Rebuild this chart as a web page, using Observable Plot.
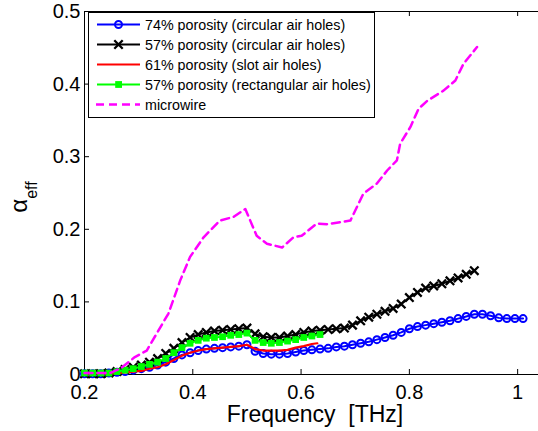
<!DOCTYPE html>
<html>
<head>
<meta charset="utf-8">
<script src="https://cdn.jsdelivr.net/npm/d3@7"></script>
<script src="https://cdn.jsdelivr.net/npm/@observablehq/plot@0.6"></script>
<style>
  html, body { margin: 0; padding: 0; background: #fff; }
  svg { display: block; }
</style>
</head>
<body>
<div id="chart"></div>
<script>
// ---- Data ----
const freq = [0.200,0.215,0.230,0.245,0.260,0.275,0.290,0.305,0.320,0.335,
              0.350,0.365,0.380,0.395,0.410,0.425,0.440,0.455,0.470,0.485,
              0.500,0.515,0.530,0.545,0.560,0.575,0.590,0.605,0.620,0.635,
              0.650,0.665,0.680,0.695,0.710,0.725,0.740,0.755,0.770,0.785,
              0.800,0.815,0.830,0.845,0.860,0.875,0.890,0.905,0.920,0.935,
              0.950,0.965,0.980,0.995,1.010];

const porosity74Circular = [0.001,0.001,0.001,0.002,0.003,0.004,0.006,0.008,0.010,0.013,
                            0.017,0.022,0.027,0.030,0.033,0.035,0.036,0.037,0.038,0.039,
                            0.041,0.032,0.029,0.028,0.028,0.029,0.031,0.033,0.034,0.035,
                            0.036,0.038,0.039,0.041,0.043,0.045,0.048,0.051,0.054,0.058,
                            0.063,0.066,0.068,0.070,0.072,0.074,0.077,0.080,0.083,0.083,
                            0.081,0.078,0.077,0.077,0.077];

const porosity57Circular = [0.001,0.001,0.001,0.002,0.004,0.007,0.010,0.013,0.017,0.022,
                            0.029,0.036,0.044,0.051,0.055,0.058,0.060,0.061,0.062,0.063,
                            0.064,0.056,0.052,0.051,0.051,0.053,0.055,0.058,0.060,0.061,
                            0.062,0.063,0.064,0.068,0.074,0.079,0.083,0.087,0.091,0.097,
                            0.106,0.113,0.119,0.122,0.125,0.129,0.133,0.138,0.143];

const porosity57Rect = [0.002,0.002,0.002,0.002,0.004,0.006,0.008,0.011,0.014,0.017,
                        0.022,0.030,0.037,0.043,0.047,0.050,0.051,0.052,0.054,0.055,
                        0.057,0.047,0.044,0.043,0.044,0.046,0.048,0.051,0.053,0.055];

const slotFreq = [0.200,0.215,0.230,0.245,0.260,0.275,0.290,0.305,0.320,0.335,
                  0.350,0.365,0.380,0.395,0.410,0.425,0.440,0.455,0.470,0.485,
                  0.500,0.515,0.530,0.545,0.560,0.575,0.590,0.605,0.620,0.630];
const porosity61Slot = [0.000,0.001,0.001,0.001,0.002,0.003,0.004,0.005,0.008,0.010,
                        0.014,0.020,0.026,0.030,0.033,0.035,0.036,0.037,0.038,0.039,
                        0.041,0.035,0.033,0.033,0.033,0.034,0.037,0.039,0.042,0.043];

const microFreq = [0.200,0.247,0.266,0.293,0.315,0.333,0.355,0.377,0.395,0.420,
                   0.450,0.475,0.497,0.518,0.537,0.565,0.586,0.601,0.629,0.648,
                   0.691,0.715,0.740,0.759,0.777,0.783,0.802,0.817,0.833,0.863,
                   0.885,0.900,0.925];
const microwire = [0.002,0.002,0.008,0.024,0.033,0.056,0.084,0.130,0.162,0.189,
                   0.212,0.217,0.228,0.191,0.180,0.175,0.189,0.191,0.208,0.207,
                   0.212,0.249,0.263,0.281,0.295,0.318,0.341,0.366,0.377,0.391,
                   0.405,0.428,0.451];

const seriesLabels = ["74% porosity (circular air holes)",
                      "57% porosity (circular air holes)",
                      "61% porosity (slot air holes)",
                      "57% porosity (rectangular air holes)",
                      "microwire"];
const seriesColors = ["#0000ff", "#000000", "#ff0000", "#00ff00", "#ff00ff"];

const xTicks = [0.2, 0.4, 0.6, 0.8, 1.0];
const xTickLabels = ["0.2", "0.4", "0.6", "0.8", "1"];
const yTicks = [0, 0.1, 0.2, 0.3, 0.4, 0.5];
const yTickLabels = ["0", "0.1", "0.2", "0.3", "0.4", "0.5"];
const xDomain = [0.2, 1.0385];
const yDomain = [0, 0.5];
const xLabel = "Frequency\u00a0\u00a0[THz]";

// ---- Build tables ----
const toRows = (fs, vs) => vs.map((v, i) => ({f: fs[i], a: v}));
const s74 = toRows(freq, porosity74Circular);
const s57c = toRows(freq, porosity57Circular);
const s61 = toRows(slotFreq, porosity61Slot);
const s57r = toRows(freq, porosity57Rect);
const sMw = toRows(microFreq, microwire);

const W = 538, H = 431;
const mL = 84, mR = 0, mT = 11, mB = 57;
const frameW = W - mL - mR, frameH = H - mT - mB;
const font = "'Liberation Sans', Arial, Helvetica, sans-serif";

const svg = Plot.plot({
  width: W, height: H,
  marginLeft: mL, marginRight: mR, marginTop: mT, marginBottom: mB,
  style: {fontFamily: font, color: "#000", background: "#fff", overflow: "visible"},
  x: {domain: xDomain, ticks: xTicks},
  y: {domain: yDomain, ticks: yTicks},
  marks: [
    Plot.ruleX([xDomain[0]], {stroke: "#000", strokeWidth: 1}),
    Plot.ruleY([yDomain[0], yDomain[1]], {stroke: "#000", strokeWidth: 1}),
    Plot.tickX(xTicks, {x: d => d, insetTop: frameH - 5, stroke: "#000"}),
    Plot.tickX(xTicks, {x: d => d, insetBottom: frameH - 5, stroke: "#000"}),
    Plot.tickY(yTicks, {y: d => d, insetRight: frameW - 5, stroke: "#000"}),
    Plot.axisX(xTicks, {tickSize: 0, tickPadding: 10, fontSize: 20, label: null,
                        tickFormat: d => xTickLabels[xTicks.indexOf(d)]}),
    Plot.axisY(yTicks, {tickSize: 0, tickPadding: 4, fontSize: 20, label: null,
                        tickFormat: d => yTickLabels[yTicks.indexOf(d)]}),
    Plot.line(s74, {x: "f", y: "a", stroke: seriesColors[0], strokeWidth: 2}),
    Plot.dot(s74, {x: "f", y: "a", stroke: seriesColors[0], fill: "none", r: 3.5, strokeWidth: 2}),
    Plot.line(s57c, {x: "f", y: "a", stroke: seriesColors[1], strokeWidth: 2}),
    Plot.dot(s57c, {x: "f", y: "a", symbol: "times", stroke: seriesColors[1], r: 3.9, strokeWidth: 2.3}),
    Plot.line(s61, {x: "f", y: "a", stroke: seriesColors[2], strokeWidth: 2.2}),
    Plot.line(s57r, {x: "f", y: "a", stroke: seriesColors[3], strokeWidth: 2}),
    Plot.dot(s57r, {x: "f", y: "a", symbol: "square", fill: seriesColors[3], stroke: "none", r: 3.8}),
    Plot.line(sMw, {x: "f", y: "a", stroke: seriesColors[4], strokeWidth: 2.5, strokeDasharray: "8,5"})
  ]
});

const s = d3.select(svg);

// x label
s.append("text")
  .attr("x", 315).attr("y", 422)
  .attr("text-anchor", "middle")
  .attr("font-family", font).attr("font-size", 23).attr("fill", "#000")
  .text(xLabel);

// y label: alpha_eff
const yl = s.append("text")
  .attr("transform", "translate(27,197) rotate(-90)")
  .attr("text-anchor", "middle")
  .attr("font-family", font).attr("fill", "#000");
yl.append("tspan").attr("font-size", 24).text("\u03b1");
yl.append("tspan").attr("font-size", 16).attr("dy", 10).text("eff");

// legend
const lg = s.append("g").attr("text-anchor", "start");
lg.append("rect").attr("x", 88.5).attr("y", 12.5).attr("width", 286).attr("height", 105)
  .attr("fill", "#fff").attr("stroke", "#000").attr("stroke-width", 1);
const rowY = [24.5, 44.5, 64.5, 84.5, 104.5];
seriesLabels.forEach((lab, i) => {
  const y = rowY[i];
  const line = lg.append("line").attr("x1", 97).attr("x2", 140).attr("y1", y).attr("y2", y)
    .attr("stroke", seriesColors[i]).attr("stroke-width", i === 4 ? 2.5 : 2);
  if (i === 4) line.attr("stroke-dasharray", "8,5").attr("x1", 96);
  if (i === 0) lg.append("circle").attr("cx", 118.5).attr("cy", y).attr("r", 3.5)
    .attr("fill", "none").attr("stroke", seriesColors[0]).attr("stroke-width", 2);
  if (i === 1) lg.append("path").attr("d", d3.symbol(d3.symbolTimes, Math.PI * 3.9 * 3.9)())
    .attr("transform", `translate(118.5,${y})`).attr("stroke", "#000").attr("stroke-width", 2.3).attr("fill", "none");
  if (i === 3) lg.append("rect").attr("x", 115.2).attr("y", y - 3.4).attr("width", 6.8).attr("height", 6.8)
    .attr("fill", seriesColors[3]);
  lg.append("text").attr("x", 145).attr("y", y + 5)
    .attr("text-anchor", "start")
    .attr("font-family", font).attr("font-size", 14.3).attr("fill", "#000").text(lab);
});

document.getElementById("chart").appendChild(svg);
</script>
</body>
</html>
